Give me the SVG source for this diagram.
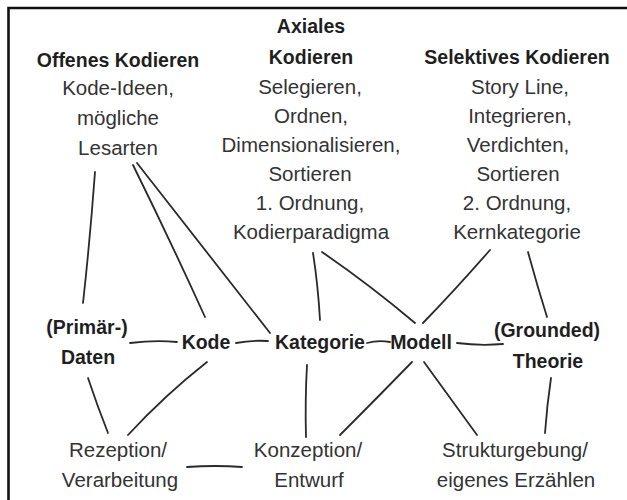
<svg xmlns="http://www.w3.org/2000/svg" width="627" height="500" viewBox="0 0 627 500">
<style>
text{font-family:"Liberation Sans",Arial,sans-serif;text-anchor:middle}
.h{font-weight:bold;font-size:19.5px;fill:#1f1f1f}
.t{font-size:20.5px;fill:#333}
.c path{fill:none;stroke:#2a2a2a;stroke-width:1.8;stroke-linecap:round}
.frame{fill:none;stroke:#111;stroke-width:2.6}
</style>
<rect width="627" height="500" fill="#fff"/>
<path class="frame" d="M8.5,500 V8 H627"/>
<g id="connectors" class="c">
<path d="M95,172 Q90,240 83,303"/>
<path d="M133,165 Q170,240 205,317"/>
<path d="M137,163 Q205,250 270,333"/>
<path d="M130,343 Q155,340 177,342"/>
<path d="M236,343 Q252,340 268,341"/>
<path d="M367,343 Q378,340 390,342"/>
<path d="M457,343 Q480,346 503,344"/>
<path d="M313,253 Q318,285 320,320"/>
<path d="M322,252 Q370,285 415,323"/>
<path d="M490,250 Q455,290 423,323"/>
<path d="M528,252 Q537,285 547,317"/>
<path d="M88,378 Q97,405 108,433"/>
<path d="M207,362 Q165,395 128,435"/>
<path d="M307,365 Q305,400 306,437"/>
<path d="M412,362 Q375,400 340,435"/>
<path d="M424,362 Q450,398 477,435"/>
<path d="M551,378 Q547,405 545,433"/>
<path d="M187,467 Q215,465 242,467"/>
</g>
<g id="offenes-kodieren">
<text class="h" x="118" y="67">Offenes Kodieren</text>
<text class="t" x="118" y="95">Kode-Ideen,</text>
<text class="t" x="118" y="125">mögliche</text>
<text class="t" x="118" y="155">Lesarten</text>
</g>
<g id="axiales-kodieren">
<text class="h" x="311" y="33">Axiales</text>
<text class="h" x="311" y="64">Kodieren</text>
<text class="t" x="310" y="94">Selegieren,</text>
<text class="t" x="311" y="123">Ordnen,</text>
<text class="t" x="311" y="152">Dimensionalisieren,</text>
<text class="t" x="310" y="181">Sortieren</text>
<text class="t" x="310" y="210">1. Ordnung,</text>
<text class="t" x="311" y="239">Kodierparadigma</text>
</g>
<g id="selektives-kodieren">
<text class="h" x="517" y="64">Selektives Kodieren</text>
<text class="t" x="520" y="94">Story Line,</text>
<text class="t" x="520" y="123">Integrieren,</text>
<text class="t" x="518" y="152">Verdichten,</text>
<text class="t" x="518" y="181">Sortieren</text>
<text class="t" x="517" y="210">2. Ordnung,</text>
<text class="t" x="517" y="239">Kernkategorie</text>
</g>
<g id="daten">
<text class="h" x="87" y="334">(Primär-)</text>
<text class="h" x="88" y="364">Daten</text>
</g>
<g id="kode">
<text class="h" x="206" y="349">Kode</text>
</g>
<g id="kategorie">
<text class="h" x="320" y="349">Kategorie</text>
</g>
<g id="modell">
<text class="h" x="421" y="349">Modell</text>
</g>
<g id="theorie">
<text class="h" x="547" y="337">(Grounded)</text>
<text class="h" x="548" y="368">Theorie</text>
</g>
<g id="rezeption">
<text class="t" x="118" y="457">Rezeption/</text>
<text class="t" x="120" y="487">Verarbeitung</text>
</g>
<g id="konzeption">
<text class="t" x="308" y="457">Konzeption/</text>
<text class="t" x="309" y="487">Entwurf</text>
</g>
<g id="strukturgebung">
<text class="t" x="515" y="457">Strukturgebung/</text>
<text class="t" x="516" y="487">eigenes Erzählen</text>
</g>
</svg>
